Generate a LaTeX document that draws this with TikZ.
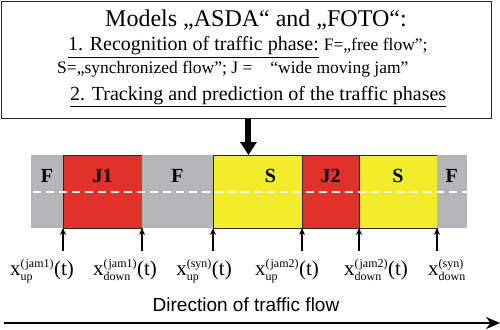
\documentclass[tikz,border=0pt]{standalone}
\usepackage{fontspec}
\setmainfont{Liberation Serif}
\newfontfamily\arialfont{Liberation Sans}
\usetikzlibrary{arrows.meta,positioning,calc}

\definecolor{flowgray}{RGB}{180,180,185}
\definecolor{jamred}{RGB}{224,50,42}
\definecolor{synyellow}{RGB}{243,236,45}
\definecolor{edge}{RGB}{40,40,40}

\newcommand{\supfont}{\fontsize{12}{12}\selectfont}
\newcommand{\xpos}[3]{x$^{\hbox{\supfont(#1)}}_{\hbox{\supfont #2}}$#3}

\begin{document}
\begin{tikzpicture}[x=1pt, y=-1pt,
  seg/.style={minimum height=73, minimum width=#1, inner sep=0, outer sep=0},
  jamseg/.style={seg=#1, fill=jamred, draw=edge, line width=0.6pt},
  synseg/.style={seg=#1, fill=synyellow, draw=edge, line width=0.6pt},
  freeseg/.style={seg=#1, fill=flowgray},
  phase/.style={font=\fontsize{20}{20}\selectfont\bfseries, text=black},
  posn/.style={font=\fontsize{21}{21}\selectfont, anchor=base, inner sep=0},
  tick/.style={-{Stealth[length=7pt,width=6pt]}, line width=1.3pt},
  lane/.style={white, line width=2pt, dash pattern=on 8pt off 5pt}]

\useasboundingbox (0,0) rectangle (500,329);

% Title box
\node[draw=edge, line width=0.9pt, minimum width=490, minimum height=117,
  anchor=north west, inner sep=0] (box) at (1,1) {};
\node[anchor=base west, inner sep=0, font=\fontsize{24}{24}\selectfont] (t1) at (105,27)
  {Models „ASDA“ and „FOTO“:};
\node[anchor=base west, inner sep=0] (t2) at (68,51)
  {\fontsize{20}{20}\selectfont\underline{1. Recognition of traffic phase:}
   \fontsize{17.5}{17.5}\selectfont F=„free flow”;};
\node[anchor=base west, inner sep=0, font=\fontsize{17.5}{17.5}\selectfont] (t3) at (57,74)
  {S=„synchronized flow”; J =\hspace{18pt}“wide moving jam”};
\node[anchor=base west, inner sep=0, font=\fontsize{20}{20}\selectfont] (t4) at (70,100)
  {\underline{2. Tracking and prediction of the traffic phases}};

% Road with traffic phases
\node[freeseg=32] (f1) at (47,191.5) {};
\node[jamseg=79, right=0pt of f1] (j1) {};
\node[freeseg=71, right=0pt of j1] (f2) {};
\node[synseg=89, right=0pt of f2] (s1) {};
\node[jamseg=57, right=0pt of s1] (j2) {};
\node[synseg=78, right=0pt of j2] (s2) {};
\node[freeseg=29.5, right=0pt of s2] (f3) {};

\draw[lane] ([xshift=2pt]f1.west) -- (f3.east);

\node[phase] (lf1) at ($(f1.center)+(0,-16)$) {F};
\node[phase] (lj1) at ($(j1.center)+(0,-16)$) {J1};
\node[phase] (lf2) at ($(f2.center)+(0,-16)$) {F};
\node[phase] (ls1) at ($(s1.center)+(13,-16)$) {S};
\node[phase] (lj2) at ($(j2.center)+(0,-16)$) {J2};
\node[phase] (ls2) at ($(s2.center)+(0,-16)$) {S};
\node[phase] (lf3) at ($(f3.center)+(0,-16)$) {F};

% Thick arrow from the models to the road
\draw[line width=6pt, -{Triangle[length=13pt,width=16pt]}]
  ([xshift=2pt]box.south) -- ([xshift=2pt]box.south |- s1.north);

% Phase fronts
\foreach \n/\a in {1/j1.south west, 2/j1.south east, 3/s1.south west,
                   4/j2.south west, 5/j2.south east, 6/s2.south east} {
  \coordinate (c\n) at ($(\a)+(0,23)$);
  \draw[tick] (c\n) -- (\a);
}

\node[posn] (x1) at (42,275)  {\xpos{\kern1pt jam1}{up}{(t)}};
\node[posn] (x2) at (125,275) {\xpos{\kern1pt jam1}{down}{(t)}};
\node[posn] (x3) at (204,275) {\xpos{syn}{up}{(t)}};
\node[posn] (x4) at (287,275) {\xpos{\kern1pt jam2}{up}{(t)}};
\node[posn] (x5) at (376,275) {\xpos{\kern1pt jam2}{down}{(t)}};
\node[posn] (x6) at (447,275) {\xpos{syn}{down}{}};

% Direction of flow
\node[font=\arialfont\fontsize{19}{19}\selectfont] (dir) at (246,305) {Direction of traffic flow};
\coordinate (dl) at (4,323);
\coordinate (dr) at (500,323);
\draw[line width=2pt, -{Stealth[length=14pt,width=12pt]}] (dl) -- (dr);

\end{tikzpicture}
\end{document}
